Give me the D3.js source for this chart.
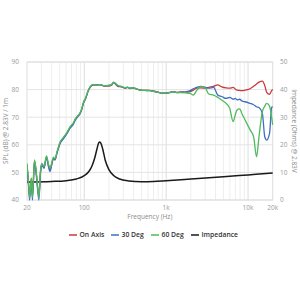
<!DOCTYPE html>
<html><head><meta charset="utf-8">
<script src="https://cdn.jsdelivr.net/npm/d3@7"></script>
<style>
html,body{margin:0;padding:0;background:#fff;}
svg{display:block;font-family:"Open Sans",sans-serif;}
</style></head>
<body><svg id="c" width="300" height="300"></svg>
<script>
const freqs = [
  20, 20.8, 21.5, 22.6, 23.3, 24.7, 26.2, 27.9, 29.3, 30.3,
  32.3, 34.6, 36.6, 38.2, 40.5, 42, 44, 46.5, 50.6, 55,
  61.4, 67, 73.8, 78, 83.5, 88.5, 93, 98, 104, 111,
  118, 127, 140, 155, 175, 200, 215, 228, 240, 260,
  285, 312, 340, 360, 400, 440, 480, 550, 630, 720,
  800, 900, 1000, 1100, 1200, 1350, 1500, 1750, 1960, 2150,
  2350, 2670, 3020, 3310, 3800, 4270, 4770, 5400, 5980, 6570,
  7000, 7340, 7900, 8500, 9200, 10600, 11700, 12700, 13600, 14950,
  16000, 16900, 18300, 19400, 20000];
const onAxis = [
  52.8, 46.5, 41.5, 47.8, 41.5, 54.2, 48.5, 41.5, 50.5, 53,
  51.8, 55.5, 52.5, 51, 53.5, 55.2, 54.8, 57.2, 60.5, 62.2,
  64.2, 66.2, 67.8, 69.2, 70.5, 71.3, 72.8, 75.2, 76.8, 79.3,
  80.8, 81.6, 81.7, 81.7, 81.3, 81.3, 81.6, 82.6, 82, 81.1,
  81, 80.5, 80.8, 80.4, 80.6, 80.2, 79.9, 79.7, 79.7, 79.4,
  79.1, 78.7, 78.8, 79, 79.3, 79, 79.2, 79.1, 79.3, 79.8,
  80.5, 80.6, 80.5, 80.8, 81.2, 81.7, 81, 80.6, 80.5, 80.8,
  80.2, 79.8, 79.7, 79.6, 79.8, 80.3, 81.2, 82, 82.7, 83.1,
  81.5, 79, 78.3, 79.6, 80.1];
const deg30 = [
  52.5, 46, 40, 47.5, 40, 54, 48, 40, 50, 52.8,
  51.5, 55.5, 52, 50.3, 53.5, 55, 54.5, 57, 60.5, 62,
  64, 66, 67.5, 69, 70.2, 71.2, 72.7, 75.2, 76.8, 79.3,
  80.9, 81.8, 81.6, 81.8, 81.4, 81.5, 81.7, 82.5, 82.2, 81.3,
  81.1, 80.6, 80.8, 80.5, 80.5, 80.2, 79.8, 79.7, 79.6, 79.3,
  79, 78.7, 78.6, 78.9, 79.2, 78.9, 79, 79.2, 79.6, 80.3,
  80.8, 81.2, 80.8, 80.5, 80.8, 78, 77.5, 76.8, 77.2, 76.5,
  76.8, 76.3, 76.5, 75.8, 75.6, 75, 74.5, 73.8, 73.5, 71.4,
  62.9, 61.7, 64.1, 73.5, 73.8];
const deg60 = [
  53.3, 47, 40.8, 48, 41, 54.5, 49, 40.8, 51, 53.3,
  52.2, 56, 53, 51.5, 54, 55.5, 55, 57.5, 61, 62.5,
  64.5, 66.5, 68, 69.5, 70.5, 71.5, 73, 75.5, 77, 79.5,
  81, 81.9, 81.6, 81.8, 81.4, 81.5, 81.8, 82.7, 82.3, 81.4,
  81.2, 80.7, 80.9, 80.5, 80.6, 80.2, 79.8, 79.7, 79.6, 79.3,
  79.0, 78.7, 78.7, 78.9, 79.2, 78.9, 78.9, 78.8, 78.6, 78.0,
  79.6, 81.2, 80.5, 78.4, 78, 77.2, 76.2, 75, 73.2, 68.4,
  71, 72.6, 73, 71, 69, 65.4, 62.9, 55.7, 62.9, 72,
  74, 75, 74, 70, 67.2];
const impFreqs = [20, 40, 60, 80, 100, 115, 125, 135, 143, 150, 155, 160, 168, 180, 200, 230, 270, 350, 500, 700, 1000, 2000, 5000, 10000, 20000];
const impOhms  = [6.5, 6.7, 7.0, 7.6, 8.8, 10.5, 12.5, 15.5, 18.5, 20.7, 21.0, 20.5, 18.5, 14.5, 11.0, 8.8, 7.6, 6.9, 6.6, 6.7, 7.0, 7.6, 8.4, 9.1, 9.8];

const splTicks = [40, 50, 60, 70, 80, 90];
const impTicks = [0, 10, 20, 30, 40, 50];
const xTicks = [20, 100, 1000, 10000, 20000];
const xTickLabels = ["20", "100", "1k", "10k", "20k"];
const seriesNames = ["On Axis", "30 Deg", "60 Deg", "Impedance"];
const seriesColors = ["#c8393b", "#3d6fc0", "#4fba5a", "#1a1a1a"];

const L = 27, R = 272.7, T = 62, B = 200;
const svg = d3.select("#c");
const x = d3.scaleLog().domain([20, 20000]).range([L, R]);
const y = d3.scaleLinear().domain([40, 90]).range([B, T]);
const yi = d3.scaleLinear().domain([0, 50]).range([B, T]);

// grid
const minor = [];
[10, 100, 1000, 10000].forEach(d => { for (let k = 1; k <= 9; k++) { const v = d * k; if (v > 20 && v < 20000) minor.push(v); } });
svg.append("g").selectAll("line").data(minor).join("line")
  .attr("x1", d => x(d)).attr("x2", d => x(d)).attr("y1", T).attr("y2", B)
  .attr("stroke", d => [100, 1000, 10000].includes(d) ? "#dcdcdc" : "#eeeeee").attr("stroke-width", 1);
svg.append("g").selectAll("line").data(splTicks).join("line")
  .attr("x1", L).attr("x2", R).attr("y1", d => y(d)).attr("y2", d => y(d))
  .attr("stroke", "#e4e4e4").attr("stroke-width", 1);
svg.append("rect").attr("x", L).attr("y", T).attr("width", R - L).attr("height", B - T)
  .attr("fill", "none").attr("stroke", "#dddddd").attr("stroke-width", 1);

// axes labels
const tickStyle = s => s.attr("font-size", 6.5).attr("fill", "#9a9a9a");
svg.append("g").selectAll("text").data(splTicks).join("text")
  .attr("x", 19).attr("y", d => y(d) + 2.3).attr("text-anchor", "end").text(d => d).call(tickStyle);
svg.append("g").selectAll("text").data(impTicks).join("text")
  .attr("x", 280).attr("y", d => yi(d) + 2.3).attr("text-anchor", "start").text(d => d).call(tickStyle);
svg.append("g").selectAll("text").data(xTicks).join("text")
  .attr("x", d => x(d)).attr("y", 210).attr("text-anchor", "middle").text((d, i) => xTickLabels[i]).call(tickStyle);

svg.append("text").attr("transform", `translate(8,${(T + B) / 2}) rotate(-90)`)
  .attr("text-anchor", "middle").attr("font-size", 6.5).attr("fill", "#8a8a8a").text("SPL (dB) @ 2.83V / 1m");
svg.append("text").attr("transform", `translate(292,${(T + B) / 2}) rotate(90)`)
  .attr("text-anchor", "middle").attr("font-size", 6.5).attr("fill", "#8a8a8a").text("Impedance (Ohms) @ 2.83V");
svg.append("text").attr("x", (L + R) / 2).attr("y", 219).attr("text-anchor", "middle")
  .attr("font-size", 6.5).attr("fill", "#8a8a8a").text("Frequency (Hz)");

// lines
const lineSpl = d3.line().x(d => x(d[0])).y(d => y(d[1])).curve(d3.curveMonotoneX);
const lineImp = d3.line().x(d => x(d[0])).y(d => yi(d[1])).curve(d3.curveMonotoneX);
const clip = svg.append("clipPath").attr("id", "pc").append("rect").attr("x", L).attr("y", T - 2).attr("width", R - L + 1).attr("height", B - T + 3);
const g = svg.append("g").attr("clip-path", "url(#pc)");
g.append("path").attr("d", lineImp(impFreqs.map((f, i) => [f, impOhms[i]])))
  .attr("fill", "none").attr("stroke", seriesColors[3]).attr("stroke-width", 1.5);
[onAxis, deg30, deg60].forEach((arr, k) => {
  g.append("path").attr("d", lineSpl(freqs.map((f, i) => [f, arr[i]])))
    .attr("fill", "none").attr("stroke", seriesColors[k]).attr("stroke-width", 1.3).attr("stroke-linejoin", "round");
});

// legend
const legX = [69, 111, 151, 191];
const lg = svg.append("g").selectAll("g").data(seriesNames).join("g")
  .attr("transform", (d, i) => `translate(${legX[i]},235)`);
lg.append("line").attr("x1", 0).attr("x2", 8).attr("y1", 0).attr("y2", 0)
  .attr("stroke", (d, i) => seriesColors[i]).attr("stroke-width", 1.5);
lg.append("text").attr("x", 10.5).attr("y", 2.4).attr("font-size", 6.8).attr("font-weight", "600")
  .attr("fill", "#333").text(d => d);
</script></body></html>
